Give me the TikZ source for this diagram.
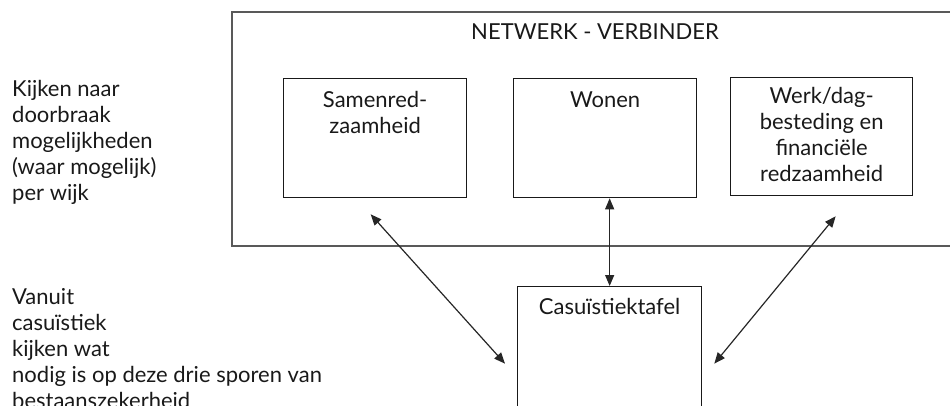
\documentclass[tikz,border=0pt]{standalone}
\usepackage{fontspec}
\setmainfont{Lato}
\usetikzlibrary{arrows.meta,calc}
\tikzset{
  outerbox/.style={draw=black!65, line width=1.6pt},
  innerbox/.style={draw=black!90, line width=1.3pt, rectangle, inner sep=0pt},
  txt/.style={inner sep=0pt, align=center, text=black!90, font=\fontsize{22}{26}\selectfont},
  lefttxt/.style={inner sep=0pt, align=left, text=black!90, font=\fontsize{22}{26}\selectfont, anchor=north west},
  arr/.style={{Triangle[length=11pt,width=9pt]}-{Triangle[length=11pt,width=9pt]}, line width=1.2pt, draw=black!85}
}
\begin{document}
\begin{tikzpicture}[x=1pt,y=-1pt]
\useasboundingbox (0,0) rectangle (950,405);
\clip (0,0) rectangle (950,405);
% outer box
\node[outerbox, rectangle, inner sep=0pt, minimum width=740pt, minimum height=234pt, anchor=north west] (outer) at (231,11) {};
\node[txt, anchor=north] (title) at (595,24) {NETWERK - VERBINDER};
% inner boxes
\node[innerbox, minimum width=183pt, minimum height=119pt, anchor=north west] (samen) at (283,78) {};
\node[innerbox, minimum width=183pt, minimum height=119pt, anchor=north west] (wonen) at (513,78) {};
\node[innerbox, minimum width=182pt, minimum height=118pt, anchor=north west] (werk) at (730,77) {};
\node[txt, anchor=north] (samentxt) at ($(samen.north)+(0,13)$) {Samenred-\\zaamheid};
\node[txt, anchor=north] (wonentxt) at ($(wonen.north)+(0,14)$) {Wonen};
\node[txt, anchor=north] (werktxt) at ($(werk.north)+(0,10)$) {Werk/dag-\\besteding en\\financiële\\redzaamheid};
% casus box
\node[innerbox, minimum width=184pt, minimum height=154pt, anchor=north west] (casus) at (517,286) {};
\node[txt, anchor=north] (casustxt) at ($(casus.north)+(0,12)$) {Casuïstiektafel};
% left texts
\node[lefttxt] (left1) at (12,80) {Kijken naar\\doorbraak\\mogelijkheden\\(waar mogelijk)\\per wijk};
\node[lefttxt] (left2) at (12,288) {Vanuit\\casuïstiek\\kijken wat\\nodig is op deze drie sporen van\\bestaanszekerheid};
% arrows
\draw[arr] ($(samen.south)+(-4.5,16)$) -- ($(casus.west)+(-12,0)$);
\draw[arr] (casus.north |- wonen.south) -- (casus.north);
\draw[arr] ($(werk.south)+(14,20)$) -- ($(casus.east)+(12,0)$);
\end{tikzpicture}
\end{document}
